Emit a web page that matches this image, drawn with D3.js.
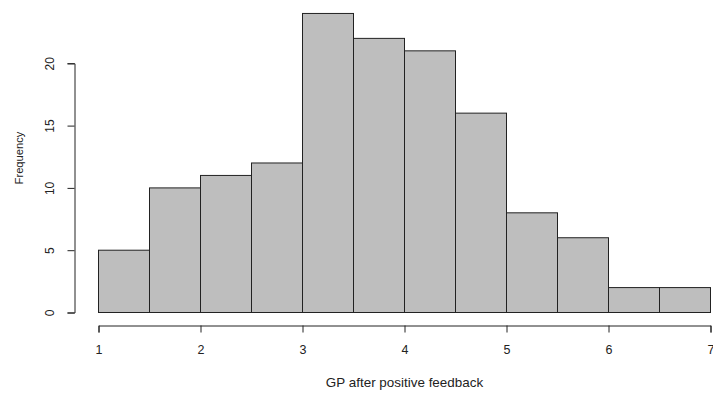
<html>
<head>
  <script src="https://d3js.org/d3.v7.min.js"></script>
  <style>
    body { margin: 0; background: white; }
    text { font-family: "Liberation Sans", Arial, sans-serif; fill: #222; }
  </style>
</head>
<body>
  <svg id="hist" width="713" height="396"></svg>
  <script>
    // histogram bins (lower/upper edge) and counts
    const binStarts = [1, 1.5, 2, 2.5, 3, 3.5, 4, 4.5, 5, 5.5, 6, 6.5];
    const binWidth = 0.5;
    const counts = [5, 10, 11, 12, 24, 22, 21, 16, 8, 6, 2, 2];
    const xTicks = [1, 2, 3, 4, 5, 6, 7];
    const yTicks = [0, 5, 10, 15, 20];

    let svg = d3.select('svg#hist');

    let xScale = d3.scaleLinear().domain([1, 7]).range([98.5, 710.5]);
    let yScale = d3.scaleLinear().domain([0, 20]).range([312.5, 63.3]);

    let bins = binStarts.map((s, i) => ({ x0: s, x1: s + binWidth, n: counts[i] }));

    svg.append("g").selectAll("rect").data(bins)
      .join("rect")
      .attr("x", d => xScale(d.x0))
      .attr("y", d => yScale(d.n))
      .attr("width", d => xScale(d.x1) - xScale(d.x0))
      .attr("height", d => yScale(0) - yScale(d.n))
      .attr("fill", "#bebebe")
      .attr("stroke", "#222")
      .attr("stroke-width", 1);

    // x axis
    let bottomAxis = d3.axisBottom(xScale)
      .tickValues(xTicks)
      .tickFormat(d3.format("d"))
      .tickSizeOuter(0)
      .tickSize(7)
      .tickPadding(13);
    let xg = svg.append("g")
      .attr("transform", "translate(0,325.5)")
      .call(bottomAxis);
    xg.selectAll("text").attr("font-size", 12.5).attr("font-family", null);
    xg.selectAll("line, path").attr("stroke", "#222");

    // y axis, labels parallel to axis like R
    let leftAxis = d3.axisLeft(yScale)
      .tickValues(yTicks)
      .tickSizeOuter(0)
      .tickSize(7);
    let yg = svg.append("g")
      .attr("transform", "translate(74.5,0)")
      .call(leftAxis);
    yg.selectAll("line, path").attr("stroke", "#222");
    yg.selectAll(".tick text")
      .attr("font-size", 12)
      .attr("font-family", null)
      .attr("x", 0).attr("dy", null)
      .attr("text-anchor", "middle")
      .attr("transform", "translate(-20.5,0) rotate(-90)");

    svg.append("text")
      .attr("transform", "translate(404.5,387) scale(1.12,1)")
      .attr("text-anchor", "middle")
      .attr("font-size", 12)
      .text("GP after positive feedback");

    svg.append("text")
      .attr("transform", "translate(22.5,158) rotate(-90)")
      .attr("text-anchor", "middle")
      .attr("font-size", 11.2)
      .text("Frequency");
  </script>
</body>
</html>
